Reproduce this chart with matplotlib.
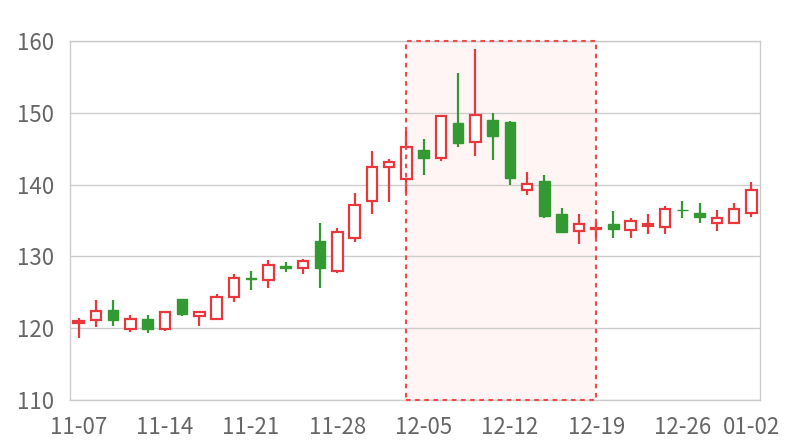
import matplotlib
matplotlib.use("Agg")
import matplotlib.pyplot as plt
from matplotlib.patches import Rectangle

plt.rcParams['font.family'] = ['Noto Sans CJK SC', 'DejaVu Sans']

dates = ["11-07", "11-08", "11-09", "11-10", "11-13", "11-14", "11-15", "11-16", "11-17", "11-20",
         "11-21", "11-22", "11-23", "11-24", "11-27", "11-28", "11-29", "11-30", "12-01", "12-04",
         "12-05", "12-06", "12-07", "12-08", "12-11", "12-12", "12-13", "12-14", "12-15", "12-18",
         "12-19", "12-20", "12-21", "12-22", "12-25", "12-26", "12-27", "12-28", "12-29", "01-02"]
opens = [120.7, 121.2, 122.5, 119.9, 121.3, 119.9, 124.1, 121.7, 121.3, 124.4,
         127.0, 126.7, 128.6, 128.4, 132.1, 128.0, 132.5, 137.7, 142.4, 140.75,
         144.8, 143.7, 148.6, 145.9, 149.0, 148.7, 139.3, 140.5, 135.85, 133.5,
         133.85, 134.45, 133.7, 134.3, 134.1, 136.5, 136.0, 134.7, 134.6, 136.0]
closes = [121.0, 122.4, 121.2, 121.3, 119.9, 122.3, 122.0, 122.2, 124.4, 127.0,
          126.8, 128.8, 128.4, 129.4, 128.4, 133.4, 137.2, 142.5, 143.2, 145.3,
          143.7, 149.6, 145.85, 149.7, 146.8, 140.9, 140.1, 135.6, 133.45, 134.45,
          134.0, 133.8, 134.9, 134.5, 136.55, 136.4, 135.5, 135.4, 136.55, 139.25]
highs = [121.4, 123.9, 123.9, 121.8, 121.8, 122.3, 124.1, 122.45, 124.8, 127.55,
         127.9, 129.5, 129.2, 129.6, 134.7, 134.0, 138.8, 144.7, 143.55, 147.45,
         146.3, 149.6, 155.5, 158.9, 150.0, 148.8, 141.8, 141.4, 136.8, 135.85,
         135.1, 136.3, 135.3, 135.85, 137.0, 137.7, 137.5, 136.45, 137.4, 140.4]
lows = [118.6, 120.1, 120.35, 119.5, 119.4, 119.65, 121.7, 120.35, 121.3, 123.6,
        125.3, 125.55, 127.8, 127.5, 125.55, 127.65, 132.05, 135.85, 137.6, 138.65,
        141.35, 143.3, 145.3, 144.0, 143.4, 139.95, 138.55, 135.4, 133.4, 131.7,
        132.5, 132.6, 132.6, 133.1, 133.1, 135.4, 134.7, 133.5, 134.6, 135.5]

tick_labels = ["11-07", "11-14", "11-21", "11-28", "12-05", "12-12", "12-19", "12-26", "01-02"]
highlight_start, highlight_end = "12-04", "12-19"

up_color = "#E8383D"
down_color = "#339933"

fig = plt.figure(figsize=(8, 4.4), dpi=100)
ax = fig.add_axes([0.0875, 0.0909, 0.8625, 0.8159])

x = list(range(len(dates)))
w = 0.62

# highlight
hs, he = dates.index(highlight_start), dates.index(highlight_end)
ax.add_patch(Rectangle((hs, 110), he - hs, 50, facecolor="#FFF5F5", edgecolor="none", zorder=0.5))
ax.add_patch(Rectangle((hs, 110), he - hs, 50, facecolor="none", edgecolor="#EE4B4B",
                       linestyle=(0, (2.2, 2.2)), linewidth=1.5, zorder=4, clip_on=False))

for i in x:
    o, c, h, l = opens[i], closes[i], highs[i], lows[i]
    top, bot = max(o, c), min(o, c)
    if c >= o:
        col = up_color
        ax.vlines(i, top, h, color=col, linewidth=1.6, zorder=3)
        ax.vlines(i, l, bot, color=col, linewidth=1.6, zorder=3)
        ax.bar(i, max(top - bot, 0.12), bottom=bot, width=w, facecolor="white",
               edgecolor=col, linewidth=1.6, zorder=3)
    else:
        col = down_color
        ax.vlines(i, l, h, color=col, linewidth=1.6, zorder=3)
        ax.bar(i, max(top - bot, 0.12), bottom=bot, width=w, facecolor=col,
               edgecolor=col, linewidth=1.0, zorder=3)

ax.set_xlim(-0.5, len(dates) - 0.5)
ax.set_ylim(110, 160)
ax.set_yticks(range(110, 161, 10))
ax.yaxis.grid(True, color="#CCCCCC", linewidth=1)
ax.set_axisbelow(True)

ax.set_xticks([dates.index(d) for d in tick_labels])
ax.set_xticklabels(tick_labels)
ax.tick_params(axis="both", length=0, labelsize=16, colors="#666666")
ax.tick_params(axis="x", pad=11.5)
ax.tick_params(axis="y", pad=11.5)

for s in ax.spines.values():
    s.set_color("#CCCCCC")
    s.set_linewidth(1)

fig.savefig("out.png", dpi=100)
